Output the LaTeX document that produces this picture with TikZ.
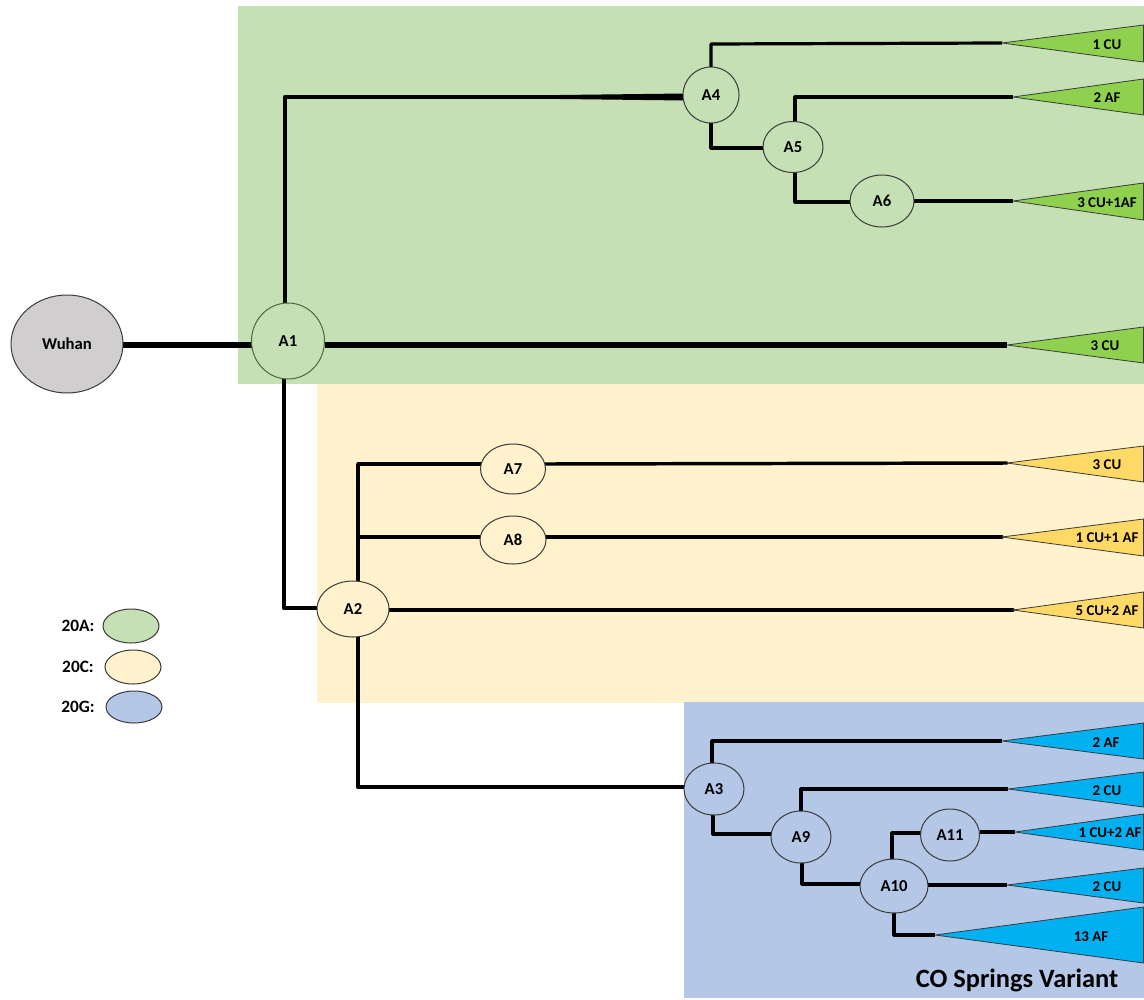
\documentclass[tikz,border=0pt]{standalone}
\usepackage{fontspec}
\setmainfont{Carlito}
\usetikzlibrary{shapes.geometric}
\pgfdeclarelayer{panel}
\pgfdeclarelayer{edge}
\pgfsetlayers{panel,edge,main}
\definecolor{gA}{HTML}{C5E0B4}
\definecolor{yC}{HTML}{FFF2CC}
\definecolor{bG}{HTML}{B4C7E7}
\definecolor{greyW}{HTML}{D0CECE}
\definecolor{triG}{HTML}{8FD14F}
\definecolor{triY}{HTML}{FFD966}
\definecolor{triB}{HTML}{00B0F0}
\definecolor{rim}{HTML}{3B3B3B}
\definecolor{rimG}{HTML}{4A6B38}
\tikzset{
  x=0.75pt,y=-0.75pt,
  oval/.style n args={2}{ellipse,draw=rim,line width=0.75pt,inner sep=0pt,outer sep=0pt,
     minimum width=#1*0.75pt,minimum height=#2*0.75pt,font=\bfseries\fontsize{12.5}{14}\selectfont},
  key/.style={font=\bfseries\fontsize{13}{15}\selectfont,inner sep=0pt},
  tip/.style={font=\bfseries\fontsize{11.2}{12}\selectfont,inner sep=0pt},
  wedge/.style={draw=rim,line width=0.6pt,line join=miter},
  e3/.style={line width=2.6pt,line join=round,line cap=round},
  e2/.style={line width=2.4pt,line join=round},
  e4/.style={line width=3.4pt,line join=round},
  e5/.style={line width=3.8pt,line join=round},
}
\newcommand{\wedgeat}[6]{% name, fill, tip x, tip y, top y, bottom y
  \coordinate (#1) at (#3,#4);
  \filldraw[wedge,fill=#2] (#1) -- (1143.5,#5) -- (1143.5,#6) -- cycle;
}
\begin{document}
\begin{tikzpicture}
\useasboundingbox (0,0) rectangle (1144,999);
\begin{pgfonlayer}{panel}
  \fill[gA] (238,6) rectangle (1144,384);
  \fill[yC] (317,384) rectangle (1144,703);
  \fill[bG] (684,702) rectangle (1144,998);
\end{pgfonlayer}

% wedges
\wedgeat{t1}{triG}{1002}{43}{25}{62}
\wedgeat{t2}{triG}{1013}{97}{79}{115}
\wedgeat{t3}{triG}{1013}{201}{183}{220}
\wedgeat{t4}{triG}{1007}{345}{327}{363}
\wedgeat{t5}{triY}{1007}{463}{446}{482}
\wedgeat{t6}{triY}{1002}{537}{519}{556}
\wedgeat{t7}{triY}{1013}{610}{592}{628}
\wedgeat{t8}{triB}{1002}{741}{723}{759}
\wedgeat{t9}{triB}{1008}{789}{772}{807}
\wedgeat{t10}{triB}{1015}{832}{814}{850}
\wedgeat{t11}{triB}{1007}{885}{868}{903}
\wedgeat{t12}{triB}{935}{935}{907}{963}

\node[tip] (l1) at (1107,44.5) {1 CU};
\node[tip] (l2) at (1107,97.5) {2 AF};
\node[tip] (l3) at (1107,202.5) {3 CU+1AF};
\node[tip] (l4) at (1105,345.5) {3 CU};
\node[tip] (l5) at (1107,464.5) {3 CU};
\node[tip] (l6) at (1107,537.5) {1 CU+1 AF};
\node[tip] (l7) at (1107,610.5) {5 CU+2 AF};
\node[tip] (l8) at (1106,742.5) {2 AF};
\node[tip] (l9) at (1107,790.5) {2 CU};
\node[tip] (l10) at (1110,832.5) {1 CU+2 AF};
\node[tip] (l11) at (1107,886.5) {2 CU};
\node[tip] (l12) at (1091,936.5) {13 AF};
\node[font=\bfseries\fontsize{19.8}{22}\selectfont,inner sep=0pt] (title) at (1017,980) {CO Springs Variant};

% ovals
\node[oval={112}{98},fill=greyW] (W) at (67,344) {Wuhan};
\node[oval={73}{76},fill=gA,draw=rimG] (A1) at (288,341) {A1};
\node[oval={72}{56},fill=yC] (A2) at (353,609) {A2};
\node[oval={60}{52},fill=bG] (A3) at (714,789) {A3};
\node[oval={56}{56},fill=gA] (A4) at (711,95) {A4};
\node[oval={60}{51},fill=gA] (A5) at (793,147) {A5};
\node[oval={64}{52},fill=gA] (A6) at (882,201) {A6};
\node[oval={65}{50},fill=yC] (A7) at (513,469) {A7};
\node[oval={66}{48},fill=yC] (A8) at (513,540) {A8};
\node[oval={60}{52},fill=bG] (A9) at (801,837) {A9};
\node[oval={68}{54},fill=bG] (A10) at (894,886) {A10};
\node[oval={59}{52},fill=bG] (A11) at (950,835) {A11};

% legend
\node[key] (k1) at (78,626) {20A:};
\node[key] (k2) at (78,667) {20C:};
\node[key] (k3) at (78,707) {20G:};
\node[oval={56}{34},fill=gA] (s1) at (131,626) {};
\node[oval={56}{34},fill=yC] (s2) at (133,667) {};
\node[oval={56}{32},fill=bG] (s3) at (134,707) {};

% junctions
\coordinate (j14) at (285,97);
\coordinate (j12) at (284,608);
\coordinate (j27) at (358,464);
\coordinate (j28) at (358,537);
\coordinate (j23) at (358,787);
\coordinate (j41) at (711,44);
\coordinate (j45) at (711,148);
\coordinate (j52) at (795,97);
\coordinate (j56) at (795,202);
\coordinate (j38) at (712,741);
\coordinate (j39) at (713,834);
\coordinate (j99) at (801,789);
\coordinate (j90) at (802,884);
\coordinate (j01) at (892,833);
\coordinate (j02) at (894,935);
\coordinate (t1a) at (560,97);
\coordinate (w1) at (180,345);

\begin{pgfonlayer}{edge}
  \draw[e5] (W.east |- w1) -- (A1.west |- w1);
  \draw[e5] (A1.east |- w1) -- (t4);
  \draw[e4,line cap=round] (j14 |- A1.north) -- (j14) -- (A4.west |- j14);
  \fill (t1a) ++(0,-2) -- ++(125,-1.5) -- ++(0,7) -- ++(-125,-1.5) -- cycle;
  \draw[e4] (A1.south -| j12) -- (j12) -- (A2.west |- j12);
  \draw[e4] (j27) -- (A2.north -| j27);
  \draw[e4] (A2.south -| j23) -- (j23) -- (A3.west |- j23);
  \draw[e3] (j27) -- (A7.west |- j27);
  \draw[e3] (A7.east |- j27) -- (t5);
  \draw[e3] (j28) -- (A8.west |- j28);
  \draw[e3] (A8.east |- j28) -- (t6);
  \draw[e3] (A2.east |- t7) -- (t7);
  \draw[e2] (A4.north) -- (j41) -- (t1);
  \draw[e2] (A4.south) -- (j45) -- (A5.west |- j45);
  \draw[e2] (A5.north -| j52) -- (j52) -- (t2);
  \draw[e2] (A5.south -| j56) -- (j56) -- (A6.west |- j56);
  \draw[e2] (A6.east |- t3) -- (t3);
  \draw[e2] (A3.north -| j38) -- (j38) -- (t8);
  \draw[e2] (A3.south -| j39) -- (j39) -- (A9.west |- j39);
  \draw[e2] (A9.north -| j99) -- (j99) -- (t9);
  \draw[e2] (A9.south -| j90) -- (j90) -- (A10.west |- j90);
  \draw[e2] (A10.north -| j01) -- (j01) -- (A11.west |- j01);
  \draw[e2] (A11.east |- t10) -- (t10);
  \draw[e2] (A10.east |- t11) -- (t11);
  \draw[e2] (A10.south -| j02) -- (j02) -- (t12);
\end{pgfonlayer}
\end{tikzpicture}
\end{document}
